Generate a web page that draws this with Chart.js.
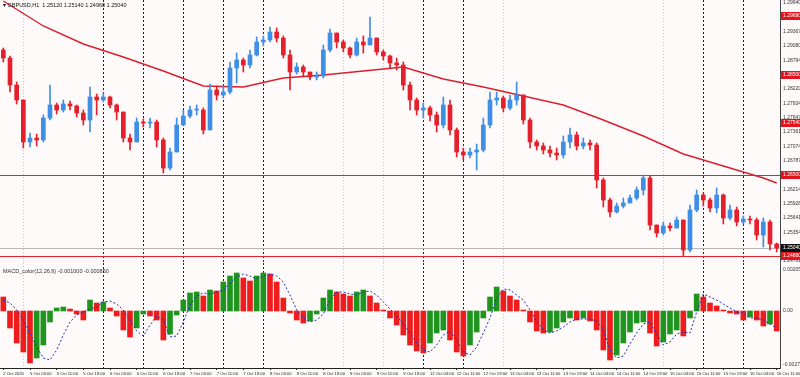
<!DOCTYPE html>
<html>
<head>
<meta charset="utf-8">
<script src="https://cdn.jsdelivr.net/npm/chart.js@4.4.0/dist/chart.umd.min.js"></script>
<style>
  html, body { margin: 0; padding: 0; background: #fffafa; }
  #wrap { position: relative; width: 800px; height: 377px; overflow: hidden; background: #fffafa; }
  canvas { position: absolute; left: 0; }
  #price { top: 0; }
  #macd { top: 263px; }
</style>
</head>
<body>
<div id="wrap">
  <canvas id="price" width="800" height="263"></canvas>
  <canvas id="macd" width="800" height="114"></canvas>
</div>
<script>
const SYMBOL = 'GBPUSD,H1'
const firstOpen = 1.29

// price bars, open of each bar = previous close
const closes = [
  1.2884, 1.283, 1.28, 1.2716, 1.2724, 1.272, 1.2764, 1.279, 1.278, 1.2792,
  1.2788, 1.2774, 1.276, 1.2806, 1.28, 1.2806, 1.279, 1.2776, 1.2724, 1.2716,
  1.2756, 1.2754, 1.2756, 1.272, 1.2664, 1.2696, 1.275, 1.2768, 1.278, 1.278,
  1.274, 1.282, 1.281, 1.2816, 1.2864, 1.288, 1.287, 1.289, 1.2916, 1.292,
  1.2936, 1.2924, 1.289, 1.2856, 1.2866, 1.2856, 1.2846, 1.2848, 1.29, 1.2934,
  1.2916, 1.2904, 1.289, 1.2916, 1.291, 1.2924, 1.2896, 1.2888, 1.2874, 1.287,
  1.283, 1.28, 1.278, 1.2784, 1.277, 1.275, 1.279, 1.274, 1.2696, 1.269,
  1.2696, 1.27, 1.275, 1.28, 1.2804, 1.2784, 1.28, 1.281, 1.276, 1.2716,
  1.2708, 1.27, 1.2694, 1.269, 1.2716, 1.273, 1.2708, 1.2714, 1.271, 1.264,
  1.26, 1.2576, 1.2588, 1.2594, 1.2604, 1.262, 1.2644, 1.255, 1.2534, 1.2548,
  1.2544, 1.256, 1.25, 1.258, 1.261, 1.26, 1.2584, 1.261, 1.2564, 1.258,
  1.2556, 1.2562, 1.256, 1.253, 1.2556, 1.2512, 1.2504,
]
const highs = [
  1.2904, 1.2888, 1.2836, 1.28, 1.2734, 1.2732, 1.277, 1.283, 1.2794, 1.28,
  1.2798, 1.279, 1.278, 1.2826, 1.2812, 1.2814, 1.2808, 1.2792, 1.2776, 1.2732,
  1.2764, 1.2762, 1.2764, 1.276, 1.2724, 1.2704, 1.2764, 1.278, 1.2788, 1.279,
  1.2784, 1.2832, 1.2828, 1.2828, 1.2876, 1.2894, 1.2884, 1.29, 1.2926, 1.2928,
  1.2946, 1.2944, 1.2928, 1.29, 1.2874, 1.287, 1.2856, 1.2856, 1.291, 1.2942,
  1.2934, 1.292, 1.2906, 1.2924, 1.2928, 1.2966, 1.2924, 1.29, 1.289, 1.2884,
  1.2876, 1.2836, 1.2804, 1.2794, 1.2788, 1.2776, 1.2806, 1.28, 1.2744, 1.2704,
  1.2704, 1.2712, 1.2764, 1.2816, 1.2816, 1.2808, 1.281, 1.2836, 1.281, 1.2764,
  1.272, 1.2714, 1.2708, 1.2704, 1.2728, 1.2744, 1.2736, 1.2724, 1.272, 1.2714,
  1.2644, 1.2604, 1.2594, 1.2604, 1.261, 1.2626, 1.265, 1.2648, 1.255, 1.2556,
  1.2554, 1.2566, 1.256, 1.259, 1.262, 1.2614, 1.2604, 1.2624, 1.2612, 1.259,
  1.2586, 1.2568, 1.2568, 1.2564, 1.2564, 1.256, 1.2514,
]
const lows = [
  1.2876, 1.2816, 1.2792, 1.2704, 1.2706, 1.2708, 1.2716, 1.276, 1.2772, 1.2776,
  1.278, 1.2766, 1.275, 1.2736, 1.277, 1.2796, 1.2784, 1.276, 1.2716, 1.27,
  1.2716, 1.2746, 1.2744, 1.2706, 1.2654, 1.266, 1.2696, 1.275, 1.2764, 1.277,
  1.2732, 1.274, 1.28, 1.2804, 1.2812, 1.2834, 1.2856, 1.2864, 1.2888, 1.2908,
  1.2916, 1.2916, 1.2884, 1.282, 1.2852, 1.2848, 1.284, 1.284, 1.2844, 1.2896,
  1.2904, 1.2896, 1.2884, 1.2888, 1.2894, 1.291, 1.289, 1.288, 1.2864, 1.286,
  1.282, 1.278, 1.277, 1.2764, 1.2758, 1.2736, 1.2744, 1.273, 1.2686, 1.268,
  1.2684, 1.266, 1.2696, 1.2744, 1.279, 1.2776, 1.278, 1.279, 1.2752, 1.2704,
  1.27, 1.2692, 1.2686, 1.268, 1.2684, 1.2704, 1.27, 1.2702, 1.27, 1.2624,
  1.2586, 1.2566, 1.2574, 1.2584, 1.2594, 1.26, 1.261, 1.254, 1.2526, 1.253,
  1.2538, 1.2544, 1.2488, 1.2496, 1.2576, 1.2588, 1.2576, 1.2574, 1.2552, 1.256,
  1.2548, 1.2552, 1.2552, 1.252, 1.2506, 1.25, 1.2496,
]

// moving average, read every 6 bars
const maBars = [0, 6, 12, 18, 24, 30, 36, 42, 48, 54, 60, 66, 72, 78, 84, 90, 96, 102, 108, 114, 116]
const maValues = [
  1.2998, 1.2948, 1.2912, 1.2886, 1.2858, 1.2828, 1.2826, 1.2844, 1.285, 1.2858,
  1.2866, 1.2842, 1.2826, 1.2808, 1.279, 1.276, 1.2728, 1.2692, 1.2668, 1.2644, 1.2634,
]

// horizontal levels and axis marks
const levelLines = [1.265, 1.2488]
const bidPrice = 1.2504
const redMarks = [1.2968, 1.285, 1.2754, 1.265, 1.2488]
const priceTicks = [
  1.2994, 1.29653, 1.29367, 1.2908, 1.28794, 1.28507, 1.2822, 1.27934, 1.27647, 1.27361,
  1.27074, 1.26787, 1.26501, 1.26214, 1.25928, 1.25641, 1.25354, 1.25068, 1.24781,
]

// MACD_color panel
const hist = [
  0.0007, -0.00085, -0.0016, -0.00205, -0.0026, -0.00235, -0.0017, -0.00055, 0.00015, 0.0002,
  0.0001, -0.00015, -0.00045, 0.00055, 0.0004, 0.00045, 0.00015, -0.00025, -0.00095, -0.0013,
  -0.00085, -0.00015, -0.00025, -0.00045, -0.00145, -0.00115, -0.0002, 0.00055, 0.0009, 0.00095,
  0.00075, 0.00105, 0.001, 0.00145, 0.00175, 0.0019, 0.00165, 0.0015, 0.00175, 0.0019,
  0.00185, 0.00145, 0.00065, -0.0001, -0.00045, -0.0006, -0.0005, -0.00015, 0.00065, 0.00105,
  0.00095, 0.00085, 0.00075, 0.00095, 0.00105, 0.00075, 0.0004, 0.00005, -0.00035, -0.0007,
  -0.0012, -0.0017, -0.002, -0.0021, -0.0016, -0.0011, -0.00095, -0.00145, -0.00205, -0.00225,
  -0.0017, -0.00105, -0.00035, 0.0007, 0.0012, 0.001, 0.00075, 0.00055, 0.00005, -0.00055,
  -0.001, -0.0011, -0.00105, -0.00085, -0.00055, -0.00035, -0.00045, -0.00035, -0.0005, -0.00095,
  -0.00195, -0.00245, -0.0022, -0.0016, -0.00105, -0.0006, -0.00055, -0.0011, -0.00175, -0.00155,
  -0.00115, -0.00095, -0.00125, -0.00035, 0.00085, 0.0007, 0.0004, 0.00025, 0.00005, -0.0001,
  -0.00015, -0.00045, -0.0003, -0.00045, -0.00075, -0.00065, -0.001,
]
const signal = [
  0.00055, 0.0004, 0.00005, -0.00045, -0.0011, -0.0018, -0.00235, -0.00245, -0.00195, -0.0012,
  -0.00055, -0.0002, -0.00005, 0.0001, 0.0002, 0.00045, 0.0005, 0.00035, 0.00005, -0.00045,
  -0.001, -0.00125, -0.0007, -0.00025, -0.00045, -0.0013, -0.00125, -0.00055, 0.0003, 0.00075,
  0.0009, 0.00085, 0.00095, 0.00105, 0.0014, 0.0017, 0.00185, 0.00175, 0.0016, 0.00175,
  0.00185, 0.00175, 0.00145, 0.0008, 0.00005, -0.00035, -0.00055, -0.00045, -0.00015, 0.00055,
  0.00095, 0.00095, 0.00085, 0.0008, 0.00095, 0.001, 0.0008, 0.00045, 0.0001, -0.00025,
  -0.00065, -0.0011, -0.0016, -0.00195, -0.00205, -0.0017, -0.0012, -0.001, -0.00145, -0.00205,
  -0.0022, -0.0018, -0.0011, -0.00035, 0.00065, 0.0011, 0.00105, 0.0008, 0.00055, 0.00005,
  -0.0005, -0.00095, -0.0011, -0.001, -0.0008, -0.00055, -0.0004, -0.0004, -0.0004, -0.0005,
  -0.00095, -0.00195, -0.00235, -0.00225, -0.00165, -0.0011, -0.00065, -0.00055, -0.00115, -0.0017,
  -0.00155, -0.00115, -0.00105, -0.0011, -0.00005, 0.00085, 0.0007, 0.00055, 0.00035, 0.00015,
  -0.00005, -0.0001, -0.00035, -0.00035, -0.00045, -0.00065, -0.00085,
]
const macdTicks = [0.00205, 0, -0.0027]

// time axis, one label every 4 bars
const timeLabels = [
  '2 Oct 2020', '5 Oct 03:00', '5 Oct 11:00', '5 Oct 19:00', '6 Oct 03:00', '6 Oct 11:00',
  '6 Oct 19:00', '7 Oct 03:00', '7 Oct 11:00', '7 Oct 19:00', '8 Oct 03:00', '8 Oct 11:00',
  '8 Oct 19:00', '9 Oct 03:00', '9 Oct 11:00', '9 Oct 19:00', '12 Oct 03:00', '12 Oct 11:00',
  '12 Oct 19:00', '13 Oct 03:00', '13 Oct 11:00', '13 Oct 19:00', '14 Oct 03:00', '14 Oct 11:00',
  '14 Oct 19:00', '15 Oct 03:00', '15 Oct 11:00', '15 Oct 19:00', '16 Oct 03:00', '16 Oct 11:00',
]
const labelStep = 4

// vertical separators (bar index)
const lightVLines = [3, 51, 57, 75, 99]
const darkVLines = [15, 21, 27, 33, 39, 63, 69, 105, 111]

const UP_COLOR = '#3f8fe6'
const DOWN_COLOR = '#e3202b'
const MA_COLOR = '#d8202e'
const LEVEL_COLOR = '#e3242c'
const HIST_UP = '#1f951f'
const HIST_DOWN = '#ee1c1c'
const SIGNAL_COLOR = '#1c2fb8'
const FONT = "'Liberation Sans', Arial, sans-serif"

const lastBar = closes.length - 1
const bars = closes.map((_, i) => i)
const opens = closes.map((c, i) => (i === 0 ? firstOpen : closes[i - 1]))
const candleColors = closes.map((c, i) => (c >= opens[i] ? UP_COLOR : DOWN_COLOR))
const histColors = hist.map((v, i) => (i > 0 && v > hist[i - 1] ? HIST_UP : HIST_DOWN))

// keep the plot area flush with the canvas edges
const noPadding = s => {
  s.paddingTop = 0
  s.paddingBottom = 0
  s.paddingLeft = 0
  s.paddingRight = 0
}

function drawVLines(ctx, x, top, bottom) {
  ctx.save()
  ctx.lineWidth = 1
  const draw = (list, color, dash) => {
    ctx.strokeStyle = color
    ctx.setLineDash(dash)
    list.forEach(i => {
      const px = Math.round(x.getPixelForValue(i)) + 0.5
      ctx.beginPath()
      ctx.moveTo(px, top)
      ctx.lineTo(px, bottom)
      ctx.stroke()
    })
  }
  draw(lightVLines, '#c4c4c4', [1, 2])
  draw(darkVLines, '#222', [2, 2])
  ctx.restore()
}

const priceOverlay = {
  id: 'priceOverlay',
  beforeDatasetsDraw(chart) {
    const { ctx, chartArea: a, scales: { x, y } } = chart
    drawVLines(ctx, x, a.top, a.bottom)
    ctx.save()
    ctx.lineWidth = 1
    ctx.strokeStyle = '#b8b8b8'
    let py = Math.round(y.getPixelForValue(bidPrice)) + 0.5
    ctx.beginPath()
    ctx.moveTo(a.left, py)
    ctx.lineTo(a.right, py)
    ctx.stroke()
    ctx.strokeStyle = LEVEL_COLOR
    levelLines.forEach(v => {
      py = Math.round(y.getPixelForValue(v)) + 0.5
      ctx.beginPath()
      ctx.moveTo(a.left, py)
      ctx.lineTo(a.right, py)
      ctx.stroke()
    })
    ctx.restore()
  },
  afterDraw(chart) {
    const { ctx, chartArea: a, scales: { y } } = chart
    ctx.save()
    ctx.font = '5px ' + FONT
    ctx.textBaseline = 'middle'
    const box = (v, color) => {
      const py = y.getPixelForValue(v)
      ctx.fillStyle = color
      ctx.fillRect(a.right + 1, py - 4, 20, 8)
      ctx.fillStyle = '#fff'
      ctx.fillText(v.toFixed(5), a.right + 3, py)
    }
    redMarks.forEach(v => box(v, '#e3141e'))
    box(bidPrice, '#111')
    // symbol line
    ctx.fillStyle = '#111'
    ctx.font = '5.5px ' + FONT
    const o = opens[lastBar]
    ctx.fillText(
      '\u25BE ' + SYMBOL + '  ' + [o, highs[lastBar], lows[lastBar], closes[lastBar]].map(v => v.toFixed(5)).join(' '),
      3,
      5
    )
    ctx.restore()
  },
}

const macdOverlay = {
  id: 'macdOverlay',
  beforeDatasetsDraw(chart) {
    const { ctx, chartArea: a, scales: { x } } = chart
    drawVLines(ctx, x, a.top, a.bottom)
  },
  afterDraw(chart) {
    const { ctx } = chart
    ctx.save()
    ctx.fillStyle = '#333'
    ctx.font = '5.5px ' + FONT
    ctx.textBaseline = 'middle'
    ctx.fillText(
      'MACD_color(12,26,9) ' + hist[lastBar].toFixed(6) + ' ' + signal[lastBar].toFixed(6),
      3,
      8
    )
    ctx.restore()
  },
}

const xRange = { type: 'linear', min: -0.5, max: lastBar + 0.5, offset: false }

const configPrice = {
  type: 'bar',
  data: {
    datasets: [
      {
        type: 'line',
        data: maBars.map((b, k) => ({ x: b, y: maValues[k] })),
        borderColor: MA_COLOR,
        borderWidth: 1.4,
        pointRadius: 0,
        order: 3,
      },
      {
        data: bars.map(i => ({ x: i, y: [lows[i], highs[i]] })),
        backgroundColor: candleColors,
        barThickness: 1,
        grouped: false,
        order: 2,
      },
      {
        data: bars.map(i => ({ x: i, y: [opens[i], closes[i]] })),
        backgroundColor: candleColors,
        barThickness: 4,
        minBarLength: 1,
        grouped: false,
        order: 1,
      },
    ],
  },
  options: {
    responsive: false,
    animation: false,
    layout: { padding: 0 },
    plugins: { legend: { display: false }, tooltip: { enabled: false } },
    scales: {
      x: { ...xRange, display: false, grid: { display: false, offset: false } },
      y: {
        position: 'right',
        min: 1.2474,
        max: 1.3,
        afterBuildTicks: s => {
          s.ticks = priceTicks.map(v => ({ value: v }))
        },
        afterFit: s => {
          s.width = 20
          noPadding(s)
        },
        ticks: {
          callback: v => v.toFixed(5),
          font: { size: 5, family: FONT },
          color: '#333',
          padding: 3,
        },
        grid: { display: false, drawTicks: false },
        border: { display: true, color: '#444', dash: [2, 2] },
      },
    },
  },
  plugins: [priceOverlay],
}

const configMacd = {
  type: 'bar',
  data: {
    datasets: [
      {
        type: 'line',
        data: bars.map(i => ({ x: i, y: signal[i] })),
        borderColor: SIGNAL_COLOR,
        borderWidth: 1,
        borderDash: [2, 2],
        pointRadius: 0,
        order: 1,
      },
      {
        data: bars.map(i => ({ x: i, y: hist[i] })),
        backgroundColor: histColors,
        barThickness: 5,
        grouped: false,
        order: 2,
      },
    ],
  },
  options: {
    responsive: false,
    animation: false,
    layout: { padding: 0 },
    plugins: { legend: { display: false }, tooltip: { enabled: false } },
    scales: {
      x: {
        ...xRange,
        position: 'bottom',
        afterBuildTicks: s => {
          s.ticks = timeLabels.map((_, k) => ({ value: k * labelStep }))
        },
        afterFit: s => {
          s.height = 9
          noPadding(s)
        },
        ticks: {
          callback: v => timeLabels[Math.round(v / labelStep)],
          autoSkip: false,
          maxRotation: 0,
          minRotation: 0,
          align: 'start',
          font: { size: 4.2, family: FONT },
          color: '#222',
          padding: 1,
        },
        grid: { display: true, drawOnChartArea: false, tickLength: 2, color: '#222', offset: false },
        border: { display: true, color: '#222' },
      },
      y: {
        position: 'right',
        min: -0.00285,
        max: 0.0024,
        afterBuildTicks: s => {
          s.ticks = macdTicks.map(v => ({ value: v }))
        },
        afterFit: s => {
          s.width = 20
          noPadding(s)
        },
        ticks: {
          callback: v => (v === 0 ? '0.00' : v.toFixed(5)),
          font: { size: 5, family: FONT },
          color: '#333',
          padding: 3,
        },
        grid: { display: false, drawTicks: false },
        border: { display: true, color: '#444', dash: [2, 2] },
      },
    },
  },
  plugins: [macdOverlay],
}

const priceChart = new Chart(document.getElementById('price').getContext('2d'), configPrice)
const macdChart = new Chart(document.getElementById('macd').getContext('2d'), configMacd)
</script>
</body>
</html>
